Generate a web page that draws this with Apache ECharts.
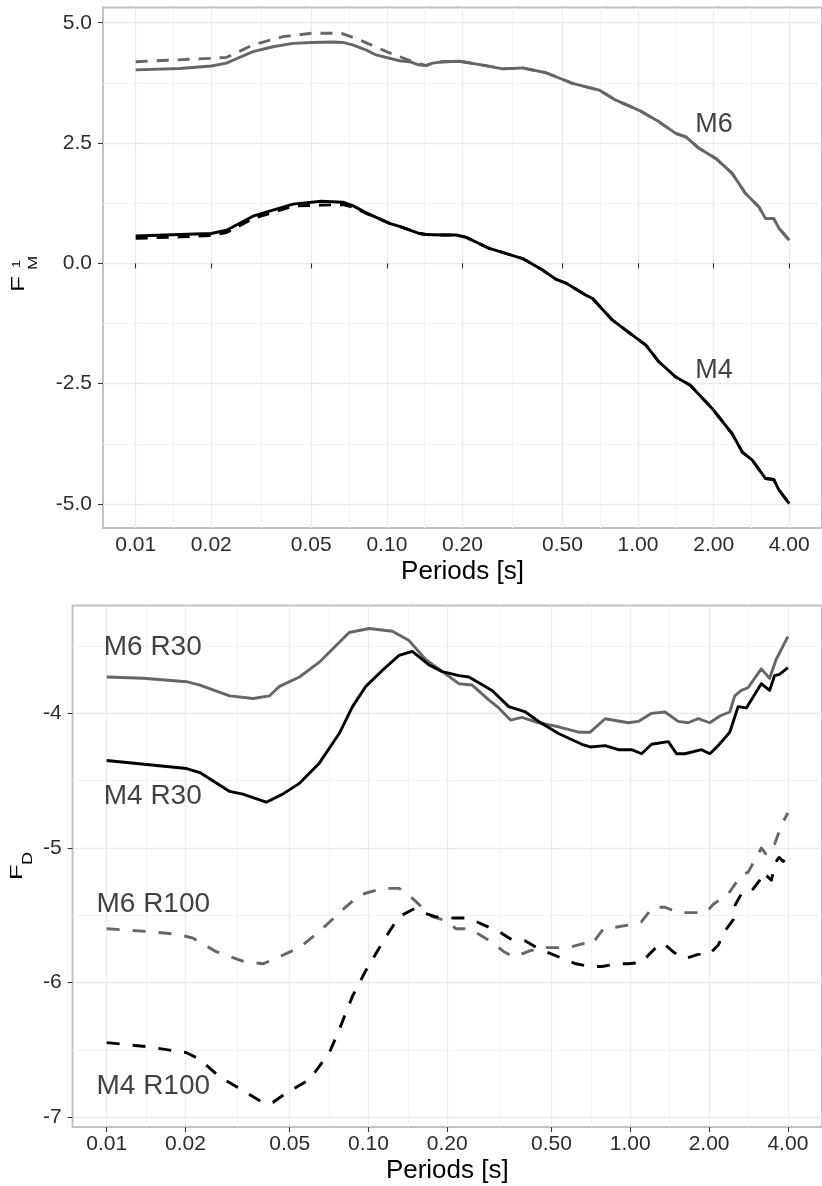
<!DOCTYPE html>
<html><head><meta charset="utf-8">
<script src="https://cdn.jsdelivr.net/npm/echarts@6/dist/echarts.min.js"></script>
<style>html,body{margin:0;padding:0;background:#fff}#c{width:822px;height:1186px}</style>
</head><body><div id="c"></div><script>
// ---------- tick values ----------
const periodTicks = [0.01, 0.02, 0.05, 0.10, 0.20, 0.50, 1.00, 2.00, 4.00];
const periodMinor = [0.01414, 0.03162, 0.07071, 0.1414, 0.3162, 0.7071, 1.414, 2.828];
const topYTicks = [-5, -2.5, 0, 2.5, 5];
const topYMinor = [-3.75, -1.25, 1.25, 3.75];
const botYTicks = [-7, -6, -5, -4];
const botYMinor = [-6.5, -5.5, -4.5, -3.5];

// ---------- top panel: F_M^1 ----------
const m6Solid = [[0.01,4.02],[0.015,4.05],[0.02,4.10],[0.023,4.16],[0.0244,4.22],[0.0293,4.40],[0.0352,4.50],[0.0423,4.57],[0.05,4.59],[0.061,4.60],[0.0668,4.59],[0.0731,4.54],[0.0829,4.43],[0.0906,4.33],[0.1123,4.21],[0.123,4.19],[0.135,4.12],[0.143,4.11],[0.152,4.16],[0.167,4.19],[0.1945,4.20],[0.241,4.12],[0.289,4.04],[0.347,4.06],[0.43,3.96],[0.548,3.74],[0.70,3.60],[0.816,3.39],[1.01,3.18],[1.213,2.94],[1.413,2.70],[1.549,2.63],[1.749,2.39],[2.04,2.18],[2.37,1.87],[2.68,1.45],[3.03,1.17],[3.22,0.93],[3.47,0.93],[3.64,0.73],[4.0,0.48]];
const m6Dashed = [[0.01,4.19],[0.02,4.26],[0.023,4.28],[0.0293,4.54],[0.0386,4.71],[0.05,4.78],[0.066,4.78],[0.0781,4.64],[0.0996,4.40],[0.127,4.19],[0.143,4.11],[0.152,4.16],[0.167,4.19],[0.1945,4.20],[0.241,4.12],[0.289,4.04],[0.347,4.06],[0.43,3.96],[0.548,3.74],[0.70,3.60],[0.816,3.39],[1.01,3.18],[1.213,2.94],[1.413,2.70],[1.549,2.63],[1.749,2.39],[2.04,2.18],[2.37,1.87],[2.68,1.45],[3.03,1.17],[3.22,0.93],[3.47,0.93],[3.64,0.73],[4.0,0.48]];
const m4Solid = [[0.01,0.57],[0.015,0.60],[0.02,0.62],[0.023,0.69],[0.0293,0.98],[0.0423,1.23],[0.0549,1.29],[0.0668,1.27],[0.0731,1.20],[0.0828,1.05],[0.1025,0.83],[0.1123,0.77],[0.135,0.62],[0.143,0.60],[0.167,0.59],[0.189,0.59],[0.207,0.54],[0.256,0.31],[0.347,0.10],[0.417,-0.14],[0.471,-0.33],[0.516,-0.41],[0.62,-0.66],[0.659,-0.73],[0.791,-1.18],[0.95,-1.49],[1.074,-1.70],[1.213,-2.05],[1.413,-2.36],[1.614,-2.53],[1.977,-3.02],[2.37,-3.54],[2.60,-3.92],[2.85,-4.09],[3.22,-4.47],[3.47,-4.49],[3.64,-4.71],[4.0,-4.99]];
const m4Dashed = [[0.01,0.52],[0.015,0.55],[0.02,0.58],[0.023,0.64],[0.0293,0.93],[0.0423,1.19],[0.0549,1.21],[0.0668,1.22],[0.0731,1.17],[0.0828,1.04],[0.1025,0.83],[0.1123,0.77],[0.135,0.62],[0.143,0.60],[0.167,0.59],[0.189,0.59],[0.207,0.54],[0.256,0.31],[0.347,0.10],[0.417,-0.14],[0.471,-0.33],[0.516,-0.41],[0.62,-0.66],[0.659,-0.73],[0.791,-1.18],[0.95,-1.49],[1.074,-1.70],[1.213,-2.05],[1.413,-2.36],[1.614,-2.53],[1.977,-3.02],[2.37,-3.54],[2.60,-3.92],[2.85,-4.09],[3.22,-4.47],[3.47,-4.49],[3.64,-4.71],[4.0,-4.99]];
const topLabels = [{name:'M6', value:[2.007, 2.875]}, {name:'M4', value:[2.007, -2.237]}];

// ---------- bottom panel: F_D ----------
const m6R30 = [[0.01,-3.73],[0.0138,-3.74],[0.0202,-3.765],[0.0227,-3.79],[0.0295,-3.87],[0.0362,-3.89],[0.0419,-3.87],[0.0457,-3.80],[0.0545,-3.73],[0.0649,-3.62],[0.0844,-3.40],[0.1006,-3.37],[0.1234,-3.39],[0.1429,-3.46],[0.1654,-3.60],[0.1914,-3.69],[0.2215,-3.78],[0.2489,-3.79],[0.2881,-3.90],[0.3146,-3.96],[0.3486,-4.05],[0.386,-4.03],[0.4467,-4.07],[0.532,-4.10],[0.6345,-4.14],[0.703,-4.14],[0.802,-4.04],[0.984,-4.07],[1.074,-4.06],[1.206,-4.00],[1.357,-3.99],[1.524,-4.06],[1.664,-4.07],[1.816,-4.04],[2.013,-4.07],[2.199,-4.02],[2.399,-3.99],[2.506,-3.87],[2.657,-3.83],[2.816,-3.81],[3.166,-3.67],[3.406,-3.74],[3.607,-3.60],[4.0,-3.43]];
const m4R30 = [[0.01,-4.35],[0.0202,-4.41],[0.0227,-4.44],[0.0295,-4.58],[0.0331,-4.60],[0.0407,-4.66],[0.047,-4.60],[0.0545,-4.52],[0.0649,-4.37],[0.0773,-4.15],[0.0869,-3.95],[0.0977,-3.80],[0.1131,-3.68],[0.1309,-3.57],[0.147,-3.54],[0.1703,-3.64],[0.1914,-3.69],[0.2215,-3.72],[0.2418,-3.73],[0.2966,-3.83],[0.3434,-3.95],[0.3977,-3.99],[0.4467,-4.06],[0.532,-4.15],[0.653,-4.23],[0.703,-4.25],[0.802,-4.24],[0.901,-4.27],[1.012,-4.27],[1.105,-4.30],[1.206,-4.23],[1.397,-4.21],[1.502,-4.30],[1.617,-4.30],[1.871,-4.27],[2.013,-4.30],[2.166,-4.24],[2.399,-4.14],[2.582,-3.95],[2.776,-3.96],[3.166,-3.78],[3.406,-3.83],[3.558,-3.72],[3.715,-3.71],[4.0,-3.66]];
const m6R100 = [[0.01,-5.60],[0.0142,-5.62],[0.0185,-5.64],[0.0214,-5.67],[0.0262,-5.77],[0.0331,-5.84],[0.0395,-5.86],[0.0431,-5.83],[0.0545,-5.74],[0.0649,-5.62],[0.0796,-5.46],[0.0922,-5.35],[0.1131,-5.30],[0.1309,-5.30],[0.1429,-5.35],[0.156,-5.42],[0.175,-5.51],[0.198,-5.54],[0.216,-5.60],[0.242,-5.60],[0.269,-5.65],[0.296,-5.70],[0.329,-5.77],[0.359,-5.81],[0.417,-5.76],[0.458,-5.76],[0.48,-5.74],[0.58,-5.74],[0.66,-5.71],[0.71,-5.72],[0.79,-5.60],[0.87,-5.59],[1.0,-5.57],[1.1,-5.55],[1.22,-5.44],[1.36,-5.44],[1.52,-5.48],[1.71,-5.48],[1.95,-5.48],[2.07,-5.42],[2.37,-5.34],[2.51,-5.27],[2.66,-5.20],[2.82,-5.18],[3.17,-5.00],[3.31,-5.05],[3.56,-4.97],[3.80,-4.82],[4.0,-4.74]];
const m4R100 = [[0.01,-6.445],[0.0142,-6.475],[0.0202,-6.52],[0.0227,-6.57],[0.027,-6.70],[0.0331,-6.80],[0.0395,-6.89],[0.0431,-6.89],[0.0485,-6.82],[0.0595,-6.72],[0.0709,-6.52],[0.0773,-6.35],[0.0869,-6.10],[0.0977,-5.91],[0.1165,-5.66],[0.1309,-5.51],[0.15,-5.45],[0.156,-5.47],[0.18,-5.51],[0.21,-5.52],[0.235,-5.52],[0.26,-5.55],[0.297,-5.60],[0.315,-5.62],[0.352,-5.68],[0.398,-5.69],[0.44,-5.74],[0.476,-5.77],[0.55,-5.82],[0.62,-5.86],[0.70,-5.88],[0.78,-5.88],[0.89,-5.86],[0.98,-5.86],[1.11,-5.85],[1.18,-5.79],[1.30,-5.71],[1.36,-5.72],[1.48,-5.78],[1.62,-5.82],[1.82,-5.79],[2.0,-5.79],[2.17,-5.72],[2.29,-5.62],[2.48,-5.53],[2.52,-5.42],[2.66,-5.34],[2.88,-5.33],[3.12,-5.24],[3.21,-5.18],[3.46,-5.24],[3.58,-5.11],[3.70,-5.07],[3.84,-5.10],[4.0,-5.07]];
const botLabels = [{name:'M6 R30', value:[0.0097,-3.511]}, {name:'M4 R30', value:[0.0097,-4.613]}, {name:'M6 R100', value:[0.0091,-5.4175]}, {name:'M4 R100', value:[0.0091,-6.766]}];

// ---------- styling ----------
const FONT = '"Liberation Sans", Arial, Helvetica, sans-serif';
const GREY = '#666666';
const X_MIN = 0.00741, X_MAX = 5.40;

function majorX(gridIndex) {
  return {
    type: 'log', logBase: 10, gridIndex, min: X_MIN, max: X_MAX,
    name: 'Periods [s]', nameLocation: 'middle', nameGap: 31,
    nameTextStyle: { fontFamily: FONT, fontSize: 26, color: '#000' },
    axisLine: { show: false },
    axisTick: { show: true, length: 5, customValues: periodTicks, lineStyle: { color: '#333', width: 1.1 } },
    axisLabel: { show: true, customValues: periodTicks, margin: 7, fontFamily: FONT, fontSize: 21, color: '#2b2b2b',
      formatter: v => Number(v).toFixed(2) },
    splitLine: { show: true, lineStyle: { color: '#ebebeb', width: 1.3 } }
  };
}
function minorX(gridIndex) {
  return {
    type: 'log', logBase: 10, gridIndex, min: X_MIN, max: X_MAX,
    axisLine: { show: false },
    axisTick: { show: false, customValues: periodMinor },
    axisLabel: { show: false, customValues: periodMinor },
    splitLine: { show: true, lineStyle: { color: '#f3f3f3', width: 1 } }
  };
}
function majorY(gridIndex, min, max, ticks, fmt) {
  return {
    type: 'value', gridIndex, min, max,
    axisLine: { show: false },
    axisTick: { show: true, length: 5, customValues: ticks, lineStyle: { color: '#333', width: 1.1 } },
    axisLabel: { show: true, customValues: ticks, margin: 11, fontFamily: FONT, fontSize: 21, color: '#2b2b2b', formatter: fmt },
    splitLine: { show: true, lineStyle: { color: '#ebebeb', width: 1.3 } }
  };
}
function minorY(gridIndex, min, max, ticks) {
  return {
    type: 'value', gridIndex, min, max,
    axisLine: { show: false },
    axisTick: { show: false, customValues: ticks },
    axisLabel: { show: false, customValues: ticks },
    splitLine: { show: true, lineStyle: { color: '#f3f3f3', width: 1 } }
  };
}
function line(data, xi, yi, color, dashed, dash) {
  return {
    type: 'line', data, xAxisIndex: xi, yAxisIndex: yi, showSymbol: false, symbol: 'none',
    smooth: false, silent: true, z: color === '#000' ? 4 : 3,
    lineStyle: { color, width: 2.9, type: dashed ? dash : 'solid', cap: 'butt', join: 'round' }
  };
}
function labels(data, xi, yi, pos, size) {
  return {
    type: 'scatter', data, xAxisIndex: xi, yAxisIndex: yi, symbolSize: 1, silent: true, z: 6,
    itemStyle: { color: 'rgba(0,0,0,0)' },
    label: { show: true, position: pos, distance: 0, formatter: '{b}', fontFamily: FONT, fontSize: size, color: '#111' }
  };
}
function txt(text, x, y, size, sx) {
  return { type: 'text', x, y, scaleX: sx, scaleY: 1,
    style: { text, fontSize: size, fontFamily: FONT, fill: '#000', verticalAlign: 'middle', align: 'left' } };
}

const chart = echarts.init(document.getElementById('c'), null, { renderer: 'canvas' });
const TOP_DASH = [12, 9], BOT_DASH = [13, 13];
chart.setOption({
  animation: false,
  backgroundColor: '#fff',
  grid: [
    { left: 103, top: 7.5, width: 720, height: 520.6, show: true, borderColor: '#c2c2c2', borderWidth: 2, backgroundColor: 'transparent' },
    { left: 72.6, top: 605.6, width: 751.6, height: 521.4, show: true, borderColor: '#c2c2c2', borderWidth: 2, backgroundColor: 'transparent' }
  ],
  xAxis: [majorX(0), minorX(0), majorX(1), minorX(1)],
  yAxis: [
    majorY(0, -5.5, 5.316, topYTicks, v => Number(v).toFixed(1)),
    minorY(0, -5.5, 5.316, topYMinor),
    majorY(1, -7.072, -3.20, botYTicks, v => String(Math.round(v))),
    minorY(1, -7.072, -3.20, botYMinor)
  ],
  series: [
    line(m6Solid, 0, 0, GREY, false),
    line(m6Dashed, 0, 0, GREY, true, TOP_DASH),
    line(m4Solid, 0, 0, '#000', false),
    line(m4Dashed, 0, 0, '#000', true, TOP_DASH),
    labels(topLabels, 0, 0, 'inside', 27),
    line(m6R30, 2, 2, GREY, false),
    line(m4R30, 2, 2, '#000', false),
    line(m6R100, 2, 2, GREY, true, BOT_DASH),
    line(m4R100, 2, 2, '#000', true, BOT_DASH),
    labels(botLabels, 2, 2, 'right', 28)
  ],
  graphic: [
    { type: 'group', x: 26, y: 292, rotation: Math.PI / 2, children: [
      txt('F', 0, -6.5, 18, 1.45), txt('1', 24, -9.5, 11, 1.3), txt('M', 22, 7.5, 13, 1.3)
    ]},
    { type: 'group', x: 23, y: 880, rotation: Math.PI / 2, children: [
      txt('F', 0, -6, 17, 1.5), txt('D', 15, 5, 15, 1.2)
    ]}
  ]
});
</script></body></html>
